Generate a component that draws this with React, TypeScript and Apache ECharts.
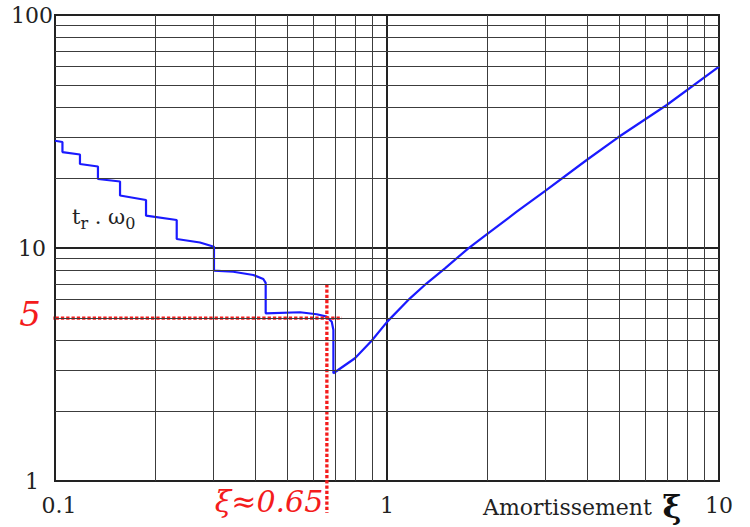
import React, { useEffect, useRef } from "react";
import * as echarts from "echarts";

// damping ratio ξ and normalized settling time tr·ω0
const xiValues = [
  0.1, 0.1053, 0.1053, 0.1189, 0.1189, 0.1347, 0.1347, 0.157, 0.157, 0.188,
  0.188, 0.2326, 0.2326, 0.2733, 0.3012, 0.3012, 0.3443, 0.3957, 0.424, 0.4311,
  0.4311, 0.547, 0.6141, 0.6584, 0.6817, 0.6895, 0.6895, 0.8007, 0.899, 1.002,
  1.173, 1.317, 1.495, 1.758, 1.997, 2.459, 2.99, 3.995, 4.97, 6.96, 10,
];
const trW0Values = [
  28.87, 28.5, 25.8, 25.2, 22.94, 22.38, 19.78, 19.29, 16.8, 16.07,
  13.76, 13.19, 10.93, 10.56, 10.13, 7.99, 7.91, 7.66, 7.36, 7.08,
  5.245, 5.3, 5.195, 5.073, 4.828, 4.45, 2.9, 3.363, 4.0, 4.83,
  6.08, 7.055, 8.18, 9.97, 11.45, 14.31, 17.56, 23.86, 29.87, 41.09, 60,
];

// red reference lines (ξ ≈ 0.65, tr·ω0 = 5)
const refHorizontal = [
  [0.0933, 5],
  [0.732, 5],
];
const refVertical = [
  [0.659, 7.0],
  [0.659, 0.73],
];

// minor (2..9) grid values of each decade
const minorX = [0.2, 0.3, 0.4, 0.5, 0.6, 0.7, 0.8, 0.9, 2, 3, 4, 5, 6, 7, 8, 9];
const minorY = [2, 3, 4, 5, 6, 7, 8, 9, 20, 30, 40, 50, 60, 70, 80, 90];

const xTickLabels = ["0.1", "1", "10"];
const yTickLabels = ["1", "10", "100"];

const FAMILY = "DejaVu Serif";

function fmt(labels: string[], firstRich?: string) {
  return (v: number) => {
    const s = String(Number(v.toPrecision(3)));
    if (!labels.includes(s)) return "";
    if (firstRich && s === labels[0]) return `{${firstRich}|${s}}`;
    return s;
  };
}

export default function App() {
  const ref = useRef<HTMLDivElement>(null);

  useEffect(() => {
    document.body.style.margin = "0";
    if (!ref.current) return;
    const chart = echarts.init(ref.current, undefined, { renderer: "svg" });

    const minorLineStyle = { color: "#3c3c3c", width: 1, type: "solid" as const };
    const redLine = { color: "#f41c1c", width: 3.3, type: [3.3, 2], cap: "butt" };

    const option = {
      animation: false,
      textStyle: { fontFamily: FAMILY },
      grid: {
        left: 55,
        right: 31,
        top: 15,
        bottom: 46,
        show: true,
        borderColor: "#222",
        borderWidth: 2,
      },
      xAxis: {
        type: "log",
        logBase: 10,
        min: 0.1,
        max: 10,
        axisLine: { show: true, lineStyle: { color: "#222", width: 2 } },
        axisTick: { show: false },
        splitLine: { show: true, lineStyle: { color: "#222", width: 2 } },
        axisLabel: {
          margin: 13,
          fontFamily: FAMILY,
          fontSize: 22,
          color: "#222",
          formatter: fmt(xTickLabels, "first"),
          rich: {
            first: {
              fontFamily: FAMILY,
              fontSize: 22,
              color: "#222",
              padding: [0, 0, 0, 8],
            },
          },
        },
      },
      yAxis: {
        type: "log",
        logBase: 10,
        min: 1,
        max: 100,
        axisLine: { show: true, lineStyle: { color: "#222", width: 2 } },
        axisTick: { show: false },
        splitLine: { show: true, lineStyle: { color: "#222", width: 2 } },
        axisLabel: {
          margin: 23,
          align: "center",
          fontFamily: FAMILY,
          fontSize: 22,
          color: "#222",
          formatter: fmt(yTickLabels),
        },
      },
      series: [
        {
          type: "line",
          z: 1,
          data: [[1, 10]],
          showSymbol: false,
          lineStyle: { opacity: 0 },
          silent: true,
          markLine: {
            silent: true,
            symbol: ["none", "none"],
            label: { show: false },
            lineStyle: minorLineStyle,
            emphasis: { disabled: true },
            data: [
              ...minorX.map((v) => ({ xAxis: v })),
              ...minorY.map((v) => ({ yAxis: v })),
            ],
          },
        },
        {
          type: "line",
          z: 3,
          data: xiValues.map((x, i) => [x, trW0Values[i]]),
          showSymbol: false,
          symbol: "none",
          lineStyle: { color: "#1a1aff", width: 2.2 },
          silent: true,
        },
        {
          type: "line",
          z: 4,
          clip: false,
          data: refHorizontal,
          symbol: "none",
          lineStyle: redLine,
          silent: true,
        },
        {
          type: "line",
          z: 4,
          clip: false,
          data: refVertical,
          symbol: "none",
          lineStyle: redLine,
          silent: true,
        },
      ],
      graphic: [
        {
          type: "text",
          x: 30,
          y: 314,
          z: 10,
          style: {
            text: "5",
            fontFamily: FAMILY,
            fontStyle: "italic",
            fontSize: 34,
            fill: "#f41c1c",
            align: "center",
            verticalAlign: "middle",
          },
        },
        {
          type: "text",
          x: 269,
          y: 501,
          z: 10,
          style: {
            text: "ξ≈0.65",
            fontFamily: FAMILY,
            fontStyle: "italic",
            fontSize: 30,
            fill: "#f41c1c",
            align: "center",
            verticalAlign: "middle",
          },
        },
        {
          type: "text",
          x: 483,
          y: 507,
          z: 10,
          style: {
            text: "Amortissement",
            fontFamily: FAMILY,
            fontSize: 22,
            fill: "#222",
            align: "left",
            verticalAlign: "middle",
          },
        },
        {
          type: "text",
          x: 672,
          y: 507,
          z: 10,
          style: {
            text: "ξ",
            fontFamily: FAMILY,
            fontWeight: "bold",
            fontSize: 32,
            fill: "#111",
            align: "center",
            verticalAlign: "middle",
          },
        },
        {
          type: "text",
          x: 72,
          y: 203,
          z: 10,
          style: {
            text: "{m|t}{s|r}{m| . ω}{s|0}",
            fill: "#222",
            align: "left",
            verticalAlign: "top",
            rich: {
              m: { fontFamily: FAMILY, fontSize: 21, lineHeight: 28, color: "#222" },
              s: {
                fontFamily: FAMILY,
                fontSize: 16,
                lineHeight: 12,
                verticalAlign: "bottom",
                color: "#222",
              },
            },
          },
        },
      ],
    };

    chart.setOption(option as any);
    return () => chart.dispose();
  }, []);

  return <div ref={ref} style={{ width: 750, height: 527 }} />;
}
